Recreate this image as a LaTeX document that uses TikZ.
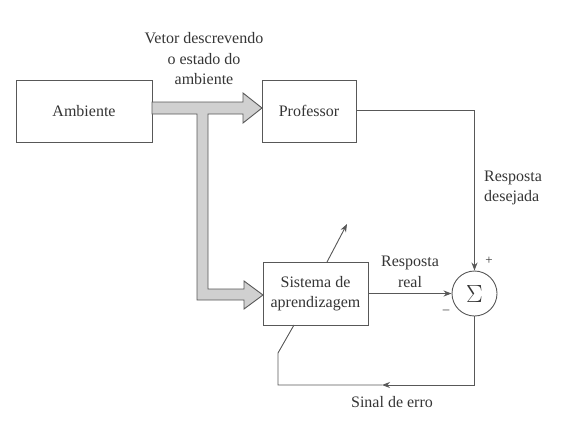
\documentclass[tikz,border=0pt]{standalone}
\usepackage{fontspec}
\setmainfont{Liberation Serif}
\usetikzlibrary{arrows.meta}
\definecolor{ln}{HTML}{585858}
\definecolor{tx}{HTML}{353535}
\definecolor{fat}{HTML}{D0D0D0}
\tikzset{
  blk/.style={draw=ln, line width=0.9pt, fill=white, align=center, inner sep=0pt, text=tx, font=\fontsize{16}{19.5}\selectfont},
  lbl/.style={text=tx, font=\fontsize{16}{20.5}\selectfont, inner sep=0pt},
  conn/.style={draw=ln, line width=0.9pt},
  tip/.style={-{Stealth[length=8pt,width=6pt]}},
}
\begin{document}
\begin{tikzpicture}[x=1pt,y=-1pt]
\useasboundingbox (0,0) rectangle (579,429);
% boxes
\node[blk, minimum width=136pt, minimum height=62pt] (amb) at (84,111) {Ambiente};
\node[blk, minimum width=94pt, minimum height=62pt] (prof) at (309,111) {Professor};
\node[blk, minimum width=105pt, minimum height=63pt] (sis) at (315.5,293.5) {Sistema de\\aprendizagem};
\node[draw=ln, line width=0.9pt, circle, minimum size=45pt, inner sep=0pt, text=tx, font=\fontsize{26}{28}\selectfont] (sum) at (474.5,293.5) {$\Sigma$};
% fat arrow
\draw[draw=ln, line width=0.9pt, fill=fat, line join=miter]
  (152,102) -- (243,102) -- (243,93) -- (262,108) -- (243,123) -- (243,114)
  -- (208,114) -- (208,289) -- (244,289) -- (244,281) -- (263,295) -- (244,309)
  -- (244,300) -- (197,300) -- (197,114) -- (152,114) -- cycle;
% connectors
\coordinate (pc) at (sum.north |- 0,110);
\draw[conn, tip] (prof.east |- pc) -- (pc) -- (sum.north);
\draw[conn, tip] (sis.east) -- (sum.west);
\coordinate (br) at (sum.south |- 0,385);
\coordinate (am) at (382,385);
\coordinate (bl) at (278,385);
\coordinate (bk) at (278,353);
\coordinate (bs) at (294,325);
\draw[conn, tip] (sum.south) -- (br) -- (am);
\draw[conn] (am) -- (bl) -- (bk) -- (bs);
\coordinate (dt) at (347,224);
\draw[conn, tip] (327,262) -- (dt);
% labels
\node[lbl, align=center] (vet) at (204,59) {Vetor descrevendo\\o estado do\\ambiente};
\node[lbl, align=center] (rr) at (410,272) {Resposta\\real};
\node[lbl, align=left, anchor=west] (rd) at (484,188) {Resposta\\desejada};
\node[lbl] (se) at (392,402) {Sinal de erro};
\node[lbl, font=\fontsize{13}{14}\selectfont] (plus) at (489,261) {+};
\node[lbl, font=\fontsize{13}{14}\selectfont] (minus) at (446,312) {\textendash};
\end{tikzpicture}
\end{document}
